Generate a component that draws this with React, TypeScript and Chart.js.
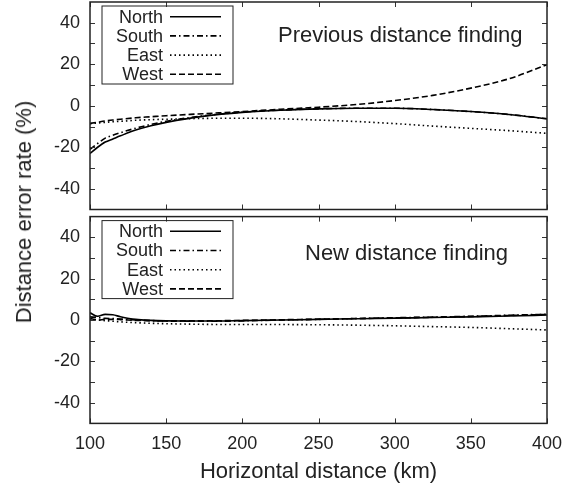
import React, { useEffect, useRef } from "react";
import { Chart, registerables } from "chart.js";

Chart.register(...registerables);

// ---------- data ----------
const DISTANCE_KM = [100, 105, 110, 115, 120, 130, 140, 150, 175, 200, 225, 250, 275, 300, 325, 350, 375, 400];
const SERIES_NAMES = ["North", "South", "East", "West"];

// Previous distance finding (%)
const PREV_NORTH = [-23, -20, -17.5, -16, -14.5, -11.7, -9.6, -8, -5, -3.2, -2.2, -1.5, -1.2, -1.2, -1.8, -2.8, -4.2, -6.3];
const PREV_SOUTH = [-21, -18.2, -15.6, -14.2, -13, -10.8, -9, -7.5, -4.8, -3.1, -2.1, -1.5, -1.2, -1.2, -1.8, -2.8, -4.2, -6.3];
const PREV_EAST = [-8.7, -8.3, -8, -7.7, -7.5, -7, -6.7, -6.5, -6.1, -6, -6.3, -6.9, -7.6, -8.6, -9.8, -10.9, -12, -13.3];
const PREV_WEST = [-8.5, -7.9, -7.3, -6.9, -6.5, -5.8, -5.3, -4.8, -3.8, -2.8, -1.7, -0.7, 0.6, 2.5, 5, 8.5, 13, 19.8];

// New distance finding (%)
const NEW_NORTH = [3.5, 1.8, 2.7, 2.5, 1.6, 0.3, -0.2, -0.4, -0.5, -0.3, 0, 0.3, 0.6, 0.9, 1.2, 1.5, 1.9, 2.4];
const NEW_SOUTH = [1.5, 1.2, 0.8, 0.7, 0.5, 0, -0.3, -0.5, -0.6, -0.4, 0, 0.3, 0.7, 1.1, 1.4, 1.8, 2.3, 2.8];
const NEW_EAST = [0.5, 0, -0.3, -0.6, -0.9, -1.3, -1.6, -1.8, -2.1, -2.2, -2.2, -2.3, -2.5, -2.8, -3.2, -3.6, -4.2, -4.8];
const NEW_WEST = [0.8, 0, 0.3, 0.3, 0.2, -0.2, -0.3, -0.4, -0.4, -0.2, 0.1, 0.4, 0.7, 1, 1.3, 1.7, 2.2, 2.7];

const X_TICKS = [100, 150, 200, 250, 300, 350, 400];
const Y_TICKS = [-40, -20, 0, 20, 40];
const Y_MINOR_TICKS = [-40, -30, -20, -10, 0, 10, 20, 30, 40];
const PANEL_TITLES = ["Previous distance finding", "New distance finding"];
const Y_TITLE = "Distance error rate (%)";
const X_TITLE = "Horizontal distance (km)";

// ---------- styles ----------
const FONT = "'Liberation Sans', Arial, Helvetica, sans-serif";
const TEXT = "#222";
const DASHES = [[], [6, 3, 1.5, 3], [1.5, 3], [6, 3]];

Chart.defaults.font.family = FONT;

const framePlugin = {
  id: "frame",
  afterDatasetsDraw(chart: any) {
    const { ctx, chartArea: a, scales } = chart;
    ctx.save();
    ctx.setLineDash([]);
    ctx.strokeStyle = "#333";
    ctx.lineWidth = 1;
    ctx.beginPath();
    for (const v of X_TICKS) {
      const px = Math.round(scales.x.getPixelForValue(v)) + 0.5;
      ctx.moveTo(px, a.bottom);
      ctx.lineTo(px, a.bottom - 5);
      ctx.moveTo(px, a.top);
      ctx.lineTo(px, a.top + 5);
    }
    for (const v of Y_MINOR_TICKS) {
      const py = Math.round(scales.y.getPixelForValue(v)) + 0.5;
      ctx.moveTo(a.left, py);
      ctx.lineTo(a.left + 5, py);
      ctx.moveTo(a.right, py);
      ctx.lineTo(a.right - 5, py);
    }
    ctx.stroke();
    ctx.strokeStyle = "#222";
    ctx.lineWidth = 1.5;
    ctx.strokeRect(a.left, a.top, a.right - a.left, a.bottom - a.top);
    ctx.restore();
  },
};

const keyPlugin = {
  id: "keybox",
  afterDraw(chart: any) {
    const { ctx, chartArea: a } = chart;
    ctx.save();
    ctx.strokeStyle = "#222";
    ctx.lineWidth = 1;
    ctx.setLineDash([]);
    ctx.strokeRect(a.left + 12, a.top + 4, 131, 78);
    ctx.font = `18px ${FONT}`;
    ctx.fillStyle = TEXT;
    ctx.textAlign = "right";
    ctx.textBaseline = "middle";
    chart.data.datasets.forEach((ds: any, i: number) => {
      const y = a.top + 14.7 + i * 19.2;
      ctx.fillText(ds.label, a.left + 73, y + 1);
      ctx.beginPath();
      ctx.strokeStyle = ds.borderColor;
      ctx.lineWidth = ds.borderWidth;
      ctx.setLineDash(ds.borderDash || []);
      ctx.moveTo(a.left + 80, y);
      ctx.lineTo(a.left + 131, y);
      ctx.stroke();
    });
    ctx.restore();
  },
};

const panelTextPlugin = {
  id: "panelText",
  afterDraw(chart: any, _args: any, opts: any) {
    const { ctx, chartArea: a } = chart;
    ctx.save();
    ctx.font = `22px ${FONT}`;
    ctx.fillStyle = TEXT;
    ctx.textAlign = "left";
    ctx.textBaseline = "alphabetic";
    ctx.fillText(opts.text, a.left + opts.dx, a.top + opts.dy);
    ctx.restore();
  },
};

function makeDatasets(series: number[][]) {
  return series.map((vals, i) => ({
    label: SERIES_NAMES[i],
    data: DISTANCE_KM.map((x, j) => ({ x, y: vals[j] })),
    borderColor: "#000",
    borderWidth: 1.6,
    borderDash: DASHES[i],
    pointRadius: 0,
    fill: false,
    cubicInterpolationMode: "monotone",
  }));
}

function yScale() {
  return {
    type: "linear",
    min: -50,
    max: 50,
    afterFit: (s: any) => {
      s.width = 90;
      s.paddingTop = 0;
      s.paddingBottom = 0;
    },
    afterBuildTicks: (s: any) => {
      s.ticks = Y_TICKS.map((v) => ({ value: v }));
    },
    grid: { display: false, drawTicks: false },
    border: { display: false },
    ticks: { font: { size: 18 }, color: TEXT, padding: 10 },
  };
}

export default function App() {
  const topRef = useRef<HTMLCanvasElement>(null);
  const botRef = useRef<HTMLCanvasElement>(null);

  useEffect(() => {
    const top = new Chart(topRef.current as HTMLCanvasElement, {
      type: "line",
      data: { datasets: makeDatasets([PREV_NORTH, PREV_SOUTH, PREV_EAST, PREV_WEST]) as any },
      options: {
        animation: false,
        responsive: false,
        devicePixelRatio: 1,
        layout: { padding: { left: 0, top: 2, right: 26, bottom: 3.5 } },
        scales: {
          x: { type: "linear", min: 100, max: 400, display: false },
          y: yScale() as any,
        },
        plugins: {
          legend: { display: false },
          tooltip: { enabled: false },
          panelText: { text: PANEL_TITLES[0], dx: 188, dy: 39.5 },
        } as any,
      },
      plugins: [framePlugin, keyPlugin, panelTextPlugin],
    });

    const bot = new Chart(botRef.current as HTMLCanvasElement, {
      type: "line",
      data: { datasets: makeDatasets([NEW_NORTH, NEW_SOUTH, NEW_EAST, NEW_WEST]) as any },
      options: {
        animation: false,
        responsive: false,
        devicePixelRatio: 1,
        layout: { padding: { left: 0, top: 3.6, right: 26, bottom: 0 } },
        scales: {
          x: {
            type: "linear",
            min: 100,
            max: 400,
            afterFit: (s: any) => {
              s.height = 63.6;
            },
            afterBuildTicks: (s: any) => {
              s.ticks = X_TICKS.map((v) => ({ value: v }));
            },
            grid: { display: false, drawTicks: false },
            border: { display: false },
            ticks: { font: { size: 18 }, color: TEXT, padding: 10, maxRotation: 0, autoSkip: false },
            title: {
              display: true,
              text: X_TITLE,
              font: { size: 22 },
              color: TEXT,
              padding: { top: 0, bottom: 2 },
            },
          },
          y: yScale() as any,
        },
        plugins: {
          legend: { display: false },
          tooltip: { enabled: false },
          panelText: { text: PANEL_TITLES[1], dx: 215, dy: 43.5 },
        } as any,
      },
      plugins: [framePlugin, keyPlugin, panelTextPlugin],
    });

    return () => {
      top.destroy();
      bot.destroy();
    };
  }, []);

  return (
    <div style={{ position: "absolute", left: 0, top: 0, width: 573, height: 487, background: "#fff", overflow: "hidden" }}>
      <canvas ref={topRef} width={573} height={213} style={{ position: "absolute", left: 0, top: 0, width: 573, height: 213 }} />
      <canvas ref={botRef} width={573} height={274} style={{ position: "absolute", left: 0, top: 213, width: 573, height: 274 }} />
      <div
        style={{
          position: "absolute",
          left: 24,
          top: 211.5,
          transform: "translate(-50%, -50%) rotate(-90deg)",
          fontFamily: FONT,
          fontSize: 22,
          lineHeight: "22px",
          color: TEXT,
          whiteSpace: "nowrap",
        }}
      >
        {Y_TITLE}
      </div>
    </div>
  );
}
